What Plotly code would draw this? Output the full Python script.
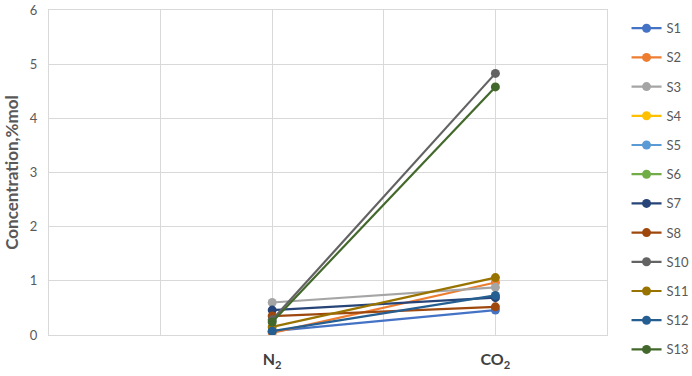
import plotly.graph_objects as go

categories = ["<b>N<sub>2</sub></b>", "<b>CO<sub>2</sub></b>"]
point_x = [2, 4]  # N2, CO2 positions on a 0-5 category grid

series_names = ["S1", "S2", "S3", "S4", "S5", "S6", "S7", "S8", "S10", "S11", "S12", "S13"]
S1 = [0.07, 0.46]
S2 = [0.04, 0.97]
S3 = [0.60, 0.88]
S4 = [None, None]
S5 = [None, None]
S6 = [None, None]
S7 = [0.46, 0.69]
S8 = [0.35, 0.52]
S10 = [0.28, 4.83]
S11 = [0.15, 1.06]
S12 = [0.07, 0.73]
S13 = [0.24, 4.58]
series_values = [S1, S2, S3, S4, S5, S6, S7, S8, S10, S11, S12, S13]
colors = ["#4472C4", "#ED7D31", "#A5A5A5", "#FFC000", "#5B9BD5", "#70AD47",
          "#264478", "#9E480E", "#636363", "#997300", "#255E91", "#43682B"]

fig = go.Figure()
for i, (name, vals, c) in enumerate(zip(series_names, series_values, colors)):
    fig.add_trace(go.Scatter(
        x=point_x, y=vals, name=name, mode="lines+markers",
        line=dict(color=c, width=2.2), marker=dict(color=c, size=9),
        legendgroup=name,
    ))

grid = "#D9D9D9"
fig.update_layout(
    width=692, height=376,
    margin=dict(l=49, r=85, t=10, b=41, autoexpand=False),
    paper_bgcolor="white", plot_bgcolor="white",
    font=dict(family="Lato, Open Sans, sans-serif", color="#595959", size=13),
    showlegend=True,
    legend=dict(x=1.035, xanchor="left", y=0.99, yanchor="top",
                font=dict(size=13, color="#595959"), tracegroupgap=9.3,
                traceorder="grouped", itemwidth=30, bgcolor="rgba(0,0,0,0)",
                maxheight=372),
    xaxis=dict(range=[0, 5], tickvals=point_x, ticktext=categories,
               showgrid=True, gridcolor=grid, gridwidth=1.3,
               minor=dict(tick0=0, dtick=1, showgrid=True, gridcolor=grid, gridwidth=1.3, ticks=""),
               zeroline=False, showline=True, linecolor=grid, linewidth=1.3, mirror=True,
               ticks="", automargin=False,
               tickfont=dict(size=16, color="#404040", family="Lato, sans-serif"),
               ticklabelstandoff=10),
    yaxis=dict(range=[0, 6], dtick=1, showgrid=True, gridcolor=grid, gridwidth=1.3,
               zeroline=False, showline=True, linecolor=grid, linewidth=1.3, mirror=True,
               ticks="", automargin=False, ticklabelstandoff=8,
               tickfont=dict(size=13, color="#595959"),
               title=dict(text="<b>Concentration,%mol</b>", font=dict(size=17, color="#595959"),
                          standoff=6)),
)

fig.write_html("out.html", config={"displayModeBar": False},
               post_script="document.body.style.margin='0';document.body.style.overflow='hidden';")
